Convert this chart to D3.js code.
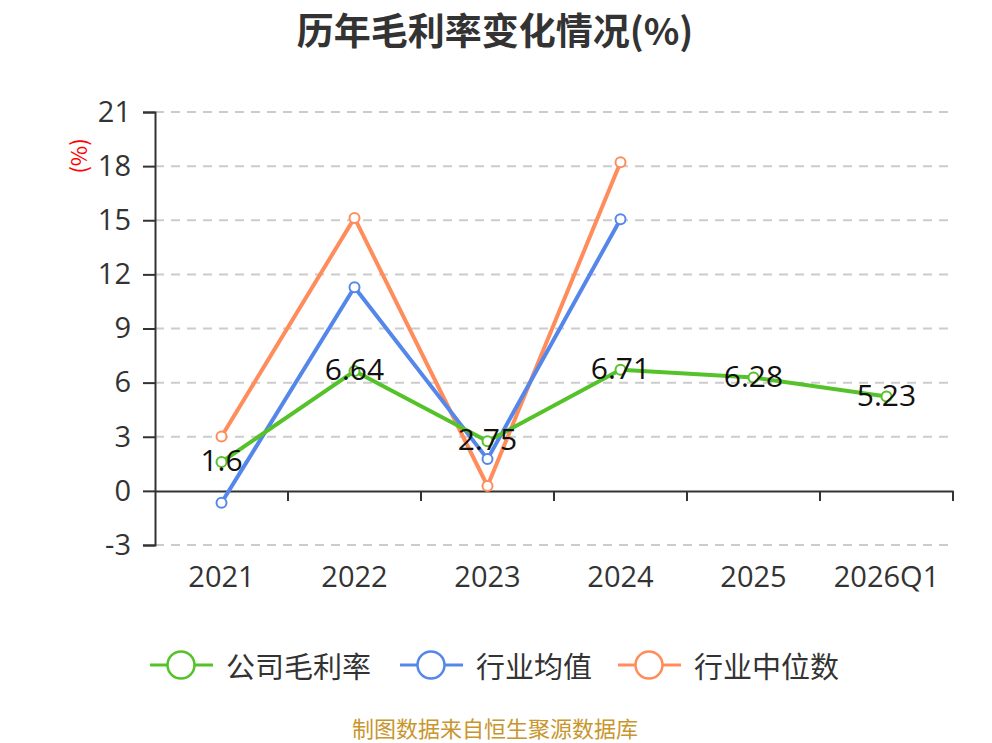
<!DOCTYPE html>
<html>
<head>
<meta charset="utf-8">
<style>
    body { margin: 0; background: #fff; }
    text { font-family: "Noto Sans CJK SC", "Open Sans", sans-serif; }
    .num { font-family: "Open Sans", sans-serif; }
    .grid line { stroke: #cccccc; stroke-width: 2px; stroke-dasharray: 9,7; }
</style>
<script src="https://cdn.jsdelivr.net/npm/d3@7"></script>
</head>
<body>
<div id="chart"></div>
<script>
    var years = ["2021", "2022", "2023", "2024", "2025", "2026Q1"];
    var companyRate = [1.6, 6.64, 2.75, 6.71, 6.28, 5.23];
    var industryAvg = [-0.66, 11.29, 1.76, 15.06, null, null];
    var industryMedian = [3.01, 15.13, 0.27, 18.22, null, null];
    var yTicks = [-3, 0, 3, 6, 9, 12, 15, 18, 21];
    var seriesNames = ["公司毛利率", "行业均值", "行业中位数"];
    var colors = ["#55c22a", "#5587ea", "#ff8d5c"];

    var width = 992, height = 743;
    var margin = { top: 112, right: 39, bottom: 198, left: 155 };

    var svg = d3.select("#chart").append("svg")
        .attr("width", width)
        .attr("height", height);

    var x = d3.scaleBand().domain(years)
        .range([margin.left, width - margin.right]);
    var y = d3.scaleLinear().domain([-3, 21])
        .range([height - margin.bottom, margin.top]);

    // title
    svg.append("text")
        .attr("x", 495).attr("y", 45)
        .attr("text-anchor", "middle")
        .style("font-size", "37px")
        .style("font-weight", "bold")
        .attr("fill", "#333")
        .text("历年毛利率变化情况(%)");

    // grid
    svg.append("g").attr("class", "grid")
        .selectAll("line")
        .data(yTicks.filter(function (d) { return d !== 0; }))
        .enter().append("line")
        .attr("x1", margin.left).attr("x2", width - margin.right)
        .attr("y1", function (d) { return y(d); })
        .attr("y2", function (d) { return y(d); });

    // y axis
    var yAxis = svg.append("g")
        .attr("transform", "translate(" + margin.left + ",0)")
        .call(d3.axisLeft(y).tickValues(yTicks)
            .tickFormat(function (d) { return String(d); })
            .tickSize(12).tickPadding(12));
    yAxis.select(".domain").attr("stroke", "#333").attr("stroke-width", 2);
    yAxis.selectAll(".tick line").attr("stroke", "#333").attr("stroke-width", 2);
    yAxis.selectAll(".tick text")
        .attr("fill", "#333")
        .attr("class", "num")
        .style("font-size", "29px");

    // y axis unit
    svg.append("text")
        .attr("transform", "translate(87,156) rotate(-90)")
        .attr("text-anchor", "middle")
        .attr("fill", "red")
        .style("font-size", "22px")
        .text("(%)");

    // x axis at zero
    var xAxis = svg.append("g")
        .attr("transform", "translate(0," + y(0) + ")")
        .call(d3.axisBottom(x).tickSize(0).tickFormat(""));
    xAxis.select(".domain").attr("stroke", "#333").attr("stroke-width", 2);

    // band boundary ticks
    svg.append("g")
        .selectAll("line")
        .data(years)
        .enter().append("line")
        .attr("x1", function (d) { return x(d) + x.bandwidth(); })
        .attr("x2", function (d) { return x(d) + x.bandwidth(); })
        .attr("y1", y(0)).attr("y2", y(0) + 10)
        .attr("stroke", "#333").attr("stroke-width", 2);

    // x labels
    svg.append("g")
        .selectAll("text")
        .data(years)
        .enter().append("text")
        .attr("class", "num")
        .attr("x", function (d) { return x(d) + x.bandwidth() / 2; })
        .attr("y", y(-3) + 42)
        .attr("text-anchor", "middle")
        .attr("fill", "#333")
        .style("font-size", "29px")
        .text(function (d) { return d; });

    var allSeries = [companyRate, industryAvg, industryMedian];
    var line = d3.line()
        .defined(function (d) { return d !== null; })
        .x(function (d, i) { return x(years[i]) + x.bandwidth() / 2; })
        .y(function (d) { return y(d); });

    // draw median, average, then company on top
    [2, 1, 0].forEach(function (s) {
        var vals = allSeries[s];
        svg.append("path")
            .datum(vals)
            .attr("fill", "none")
            .attr("stroke", colors[s])
            .attr("stroke-width", 4)
            .attr("stroke-linejoin", "round")
            .attr("d", line);
        svg.append("g")
            .selectAll("circle")
            .data(vals.map(function (v, i) { return { v: v, i: i }; })
                .filter(function (d) { return d.v !== null; }))
            .enter().append("circle")
            .attr("cx", function (d) { return x(years[d.i]) + x.bandwidth() / 2; })
            .attr("cy", function (d) { return y(d.v); })
            .attr("r", 5)
            .attr("fill", "#fff")
            .attr("stroke", colors[s])
            .attr("stroke-width", 2);
    });

    // company data labels
    svg.append("g")
        .selectAll("text")
        .data(companyRate)
        .enter().append("text")
        .attr("class", "num")
        .attr("x", function (d, i) { return x(years[i]) + x.bandwidth() / 2; })
        .attr("y", function (d) { return y(d) + 9; })
        .attr("text-anchor", "middle")
        .attr("fill", "#111")
        .style("font-size", "30px")
        .text(function (d) { return d; });

    // legend
    var legendX = [150, 400, 618];
    var legend = svg.append("g");
    seriesNames.forEach(function (name, i) {
        var g = legend.append("g").attr("transform", "translate(" + legendX[i] + ",665)");
        g.append("line").attr("x1", 0).attr("x2", 63)
            .attr("stroke", colors[i]).attr("stroke-width", 3);
        g.append("circle").attr("cx", 31).attr("r", 13.5)
            .attr("fill", "#fff").attr("stroke", colors[i]).attr("stroke-width", 2.5);
        g.append("text").attr("x", 76).attr("y", 0)
            .attr("dominant-baseline", "central")
            .attr("fill", "#333")
            .style("font-size", "29px")
            .text(name);
    });

    // source
    svg.append("text")
        .attr("x", 495).attr("y", 737)
        .attr("text-anchor", "middle")
        .attr("fill", "#c8962e")
        .style("font-size", "22px")
        .text("制图数据来自恒生聚源数据库");
</script>
</body>
</html>
